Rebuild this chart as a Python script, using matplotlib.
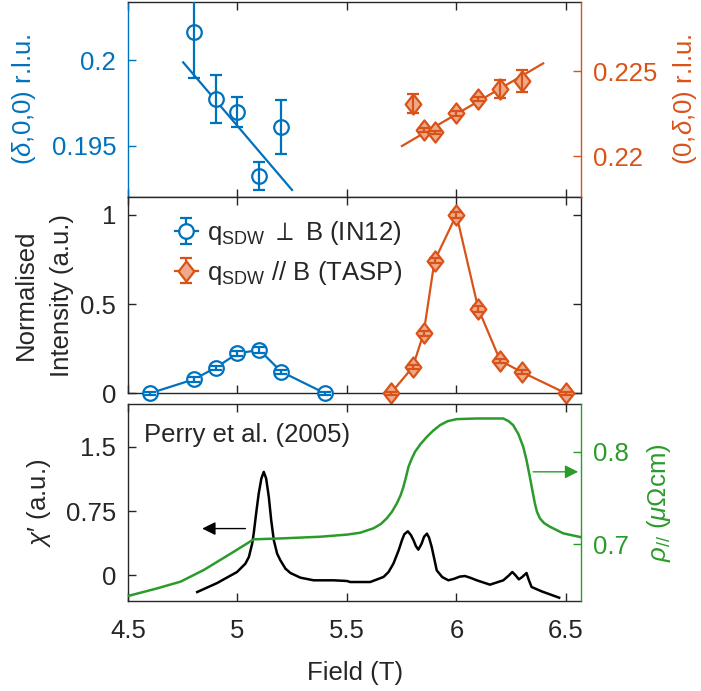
import matplotlib
matplotlib.use('Agg')
import matplotlib.pyplot as plt
from matplotlib.path import Path

plt.rcParams['font.family'] = ['Liberation Sans', 'DejaVu Sans']
plt.rcParams['mathtext.fontset'] = 'custom'
plt.rcParams['mathtext.rm'] = 'Liberation Sans'
plt.rcParams['mathtext.it'] = 'Liberation Sans:italic'
plt.rcParams['mathtext.bf'] = 'Liberation Sans:bold'
plt.rcParams['mathtext.sf'] = 'Liberation Sans'

# ---- incommensurability delta vs field ----
in12_field = [4.8, 4.9, 5.0, 5.1, 5.2]
in12_delta = [0.20165, 0.19772, 0.19700, 0.19325, 0.19611]
in12_delta_err = [0.0027, 0.0014, 0.00087, 0.0008, 0.0016]
in12_fit_field = [4.752, 5.249]
in12_fit_delta = [0.19988, 0.19243]

tasp_field = [5.8, 5.85, 5.9, 6.0, 6.1, 6.2, 6.3]
tasp_delta = [0.22308, 0.22153, 0.22139, 0.22251, 0.22335, 0.22396, 0.22441]
tasp_delta_err = [0.00056, 0.0001, 0.0001, 0.00015, 0.00013, 0.00053, 0.00066]
tasp_fit_field = [5.751, 6.396]
tasp_fit_delta = [0.22059, 0.22545]

# ---- normalised magnetic intensity ----
in12_int_field = [4.6, 4.8, 4.9, 5.0, 5.1, 5.2, 5.4]
in12_int = [0.0, 0.078, 0.143, 0.224, 0.243, 0.121, 0.0]
in12_int_err = [0.01, 0.012, 0.012, 0.015, 0.015, 0.012, 0.01]

tasp_int_field = [5.7, 5.8, 5.85, 5.9, 6.0, 6.1, 6.2, 6.3, 6.5]
tasp_int = [0.0, 0.146, 0.336, 0.743, 1.0, 0.473, 0.183, 0.118, 0.0]
tasp_int_err = [0.01, 0.012, 0.015, 0.015, 0.015, 0.015, 0.012, 0.012, 0.01]

# ---- Perry et al. (2005): ac susceptibility and resistivity ----
chi_field = [4.816, 4.907, 4.998, 5.036, 5.052, 5.067, 5.074, 5.087, 5.097,
             5.109, 5.120, 5.131, 5.143, 5.154, 5.166, 5.181, 5.196, 5.219,
             5.242, 5.287, 5.348, 5.439, 5.500, 5.515, 5.606, 5.667, 5.690,
             5.712, 5.736, 5.751, 5.762, 5.778, 5.792, 5.804, 5.815, 5.826,
             5.841, 5.852, 5.865, 5.875, 5.887, 5.910, 5.935, 5.963, 5.990,
             6.015, 6.039, 6.065, 6.093, 6.153, 6.214, 6.240, 6.255, 6.270,
             6.285, 6.300, 6.320, 6.330, 6.343, 6.389, 6.469]
chi_val = [-0.195, -0.090, 0.039, 0.136, 0.214, 0.370, 0.487, 0.760, 0.955,
           1.130, 1.208, 1.130, 0.916, 0.643, 0.409, 0.253, 0.175, 0.078,
           0.027, -0.027, -0.058, -0.058, -0.066, -0.078, -0.078, -0.019, 0.039,
           0.136, 0.292, 0.409, 0.480, 0.514, 0.470, 0.409, 0.340, 0.300,
           0.370, 0.450, 0.487, 0.440, 0.331, 0.058, -0.020, -0.058, -0.040,
           -0.015, -0.008, -0.030, -0.058, -0.109, -0.058, 0.000, 0.039, 0.000,
           -0.047, -0.020, 0.027, -0.050, -0.136, -0.187, -0.261]

rho_field = [4.500, 4.634, 4.740, 4.846, 4.983, 5.074, 5.211, 5.378, 5.500,
             5.560, 5.621, 5.655, 5.682, 5.705, 5.728, 5.745, 5.758, 5.770,
             5.781, 5.795, 5.811, 5.835, 5.865, 5.895, 5.925, 5.960, 6.001,
             6.093, 6.214, 6.238, 6.259, 6.283, 6.305, 6.320, 6.335, 6.347,
             6.358, 6.368, 6.381, 6.400, 6.427, 6.487, 6.571]
rho_val = [0.6442, 0.6525, 0.6597, 0.6723, 0.6920, 0.7054, 0.7065, 0.7082,
           0.7105, 0.7125, 0.7173, 0.7220, 0.7281, 0.7350, 0.7443, 0.7530,
           0.7622, 0.7730, 0.7838, 0.7920, 0.8000, 0.8080, 0.8161, 0.8230,
           0.8287, 0.8330, 0.8352, 0.8359, 0.8359, 0.8330, 0.8287, 0.8190,
           0.8053, 0.7910, 0.7730, 0.7580, 0.7443, 0.7350, 0.7281, 0.7230,
           0.7190, 0.7119, 0.7076]

field_ticks = [4.5, 5, 5.5, 6, 6.5]
field_ticklabels = ['4.5', '5', '5.5', '6', '6.5']

BLUE = '#0072BD'
ORANGE = '#D95319'
ORANGE_FACE = '#EFAA8A'
GREEN = '#2B9B2B'
DARK = '#262626'
FS = 18.5
LW = 1.6

diamond = Path([(0, 1), (0.78, 0), (0, -1), (-0.78, 0), (0, 1)],
               [Path.MOVETO, Path.LINETO, Path.LINETO, Path.LINETO, Path.CLOSEPOLY])

fig = plt.figure(figsize=(7.01, 6.91), dpi=100)
L, W = 0.1826, 0.6469
ax_t = fig.add_axes([L, 0.7149, W, 0.2829])
ax_m = fig.add_axes([L, 0.4308, W, 0.2841])
ax_b = fig.add_axes([L, 0.1302, W, 0.2851])

xlim = (4.5, 6.571)


def style_axes(ax):
    ax.set_xlim(*xlim)
    ax.set_xticks(field_ticks)
    ax.tick_params(direction='in', length=5.5, width=1.0, labelsize=FS,
                   colors=DARK, pad=8.5)
    ax.tick_params(axis='x', pad=13)
    for s in ax.spines.values():
        s.set_linewidth(1.0)
        s.set_color(DARK)
    ax.xaxis.set_ticks_position('both')


def blue_eb(ax, x, y, e, line=False):
    return ax.errorbar(x, y, yerr=e, fmt='o', ls='-' if line else 'none',
                       color=BLUE, mfc='white', mec=BLUE, ms=10.5, mew=LW,
                       lw=LW, elinewidth=LW, capsize=4, capthick=LW,
                       barsabove=True, zorder=3)


def orange_eb(ax, x, y, e, line=False):
    return ax.errorbar(x, y, yerr=e, fmt='', ls='-' if line else 'none',
                       marker=diamond, color=ORANGE, mfc=ORANGE_FACE,
                       mec=ORANGE, ms=14.5, mew=LW, lw=LW, elinewidth=LW,
                       capsize=4, capthick=LW, barsabove=True, zorder=3)


# ---- top panel: incommensurability ----
style_axes(ax_t)
ax_t.tick_params(axis='x', labelbottom=False)
ax_t.set_ylim(0.19202, 0.20343)
ax_t.set_yticks([0.195, 0.2])
ax_t.set_yticklabels(['0.195', '0.2'])
ax_t.tick_params(axis='y', colors=BLUE)
ax_t.spines['left'].set_color(BLUE)
ax_t.spines['right'].set_visible(False)
ax_t.plot(in12_fit_field, in12_fit_delta, color=BLUE, lw=LW, zorder=2)
blue_eb(ax_t, in12_field, in12_delta, in12_delta_err)
ax_t.set_ylabel(r'($\delta$,0,0) r.l.u.', color=BLUE, fontsize=FS)
ax_t.yaxis.set_label_coords(-0.198, 0.5)

ax_tr = ax_t.twinx()
ax_tr.set_xlim(*xlim)
ax_tr.set_ylim(0.21759, 0.22909)
ax_tr.set_yticks([0.22, 0.225])
ax_tr.set_yticklabels(['0.22', '0.225'])
ax_tr.tick_params(axis='y', direction='in', length=5.5, width=1.0,
                  labelsize=FS, colors=ORANGE, pad=8)
for k in ('left', 'top', 'bottom'):
    ax_tr.spines[k].set_visible(False)
ax_tr.spines['right'].set_color(ORANGE)
ax_tr.spines['right'].set_linewidth(1.0)
ax_tr.plot(tasp_fit_field, tasp_fit_delta, color=ORANGE, lw=LW, zorder=2)
orange_eb(ax_tr, tasp_field, tasp_delta, tasp_delta_err)
ax_tr.set_ylabel(r'(0,$\delta$,0) r.l.u.', color=ORANGE, fontsize=FS)
ax_tr.yaxis.set_label_coords(1.197, 0.5)

# ---- middle panel: normalised intensity ----
style_axes(ax_m)
ax_m.tick_params(axis='x', labelbottom=False)
ax_m.yaxis.set_ticks_position('both')
ax_m.set_ylim(0, 1.1)
ax_m.set_yticks([0, 0.5, 1])
ax_m.set_yticklabels(['0', '0.5', '1'])
eb1 = blue_eb(ax_m, in12_int_field, in12_int, in12_int_err, line=True)
eb2 = orange_eb(ax_m, tasp_int_field, tasp_int, tasp_int_err, line=True)
for eb in (eb1, eb2):
    for art in eb.get_children():
        art.set_clip_on(False)
ax_m.set_ylabel('Normalised\nIntensity (a.u.)', fontsize=FS, color=DARK,
                linespacing=1.6)
ax_m.yaxis.set_label_coords(-0.12, 0.5)
ax_m.legend([eb1, eb2],
            [r'q$_{\rm SDW}$ $\perp$ B (IN12)', r'q$_{\rm SDW}$ // B (TASP)'],
            loc='upper left', bbox_to_anchor=(0.08, 0.94), frameon=False,
            fontsize=FS, handlelength=0.9, handletextpad=0.35,
            labelspacing=0.45, borderaxespad=0.0, labelcolor=DARK)

# ---- bottom panel: susceptibility and resistivity ----
style_axes(ax_b)
ax_b.set_xticklabels(field_ticklabels)
ax_b.set_ylim(-0.3, 2.0)
ax_b.set_yticks([0, 0.75, 1.5])
ax_b.set_yticklabels(['0', '0.75', '1.5'])
ax_b.spines['right'].set_visible(False)
ax_b.plot(chi_field, chi_val, color='black', lw=LW + 0.2)
ax_b.annotate('', xy=(4.839, 0.546), xytext=(5.036, 0.546),
              arrowprops=dict(arrowstyle='-|>', color='black', lw=1.0,
                              mutation_scale=20, shrinkA=0, shrinkB=0))
ax_b.text(4.573, 1.64, 'Perry et al. (2005)', fontsize=FS, color=DARK,
          va='center', ha='left')
ax_b.set_ylabel(r"$\chi\prime$ (a.u.)", fontsize=FS, color=DARK)
ax_b.yaxis.set_label_coords(-0.165, 0.5)
ax_b.set_xlabel('Field (T)', fontsize=FS, color=DARK, labelpad=13)

ax_br = ax_b.twinx()
ax_br.set_xlim(*xlim)
ax_br.set_ylim(0.63877, 0.85151)
ax_br.set_yticks([0.7, 0.8])
ax_br.set_yticklabels(['0.7', '0.8'])
ax_br.tick_params(axis='y', direction='in', length=5.5, width=1.0,
                  labelsize=FS, colors=GREEN, pad=8)
for k in ('left', 'top', 'bottom'):
    ax_br.spines[k].set_visible(False)
ax_br.spines['right'].set_color(GREEN)
ax_br.spines['right'].set_linewidth(1.0)
ax_br.plot(rho_field, rho_val, color=GREEN, lw=LW + 0.2)
ax_br.annotate('', xy=(6.556, 0.7783), xytext=(6.35, 0.7783),
               arrowprops=dict(arrowstyle='-|>', color=GREEN, lw=1.0,
                               mutation_scale=20, shrinkA=0, shrinkB=0))
ax_br.set_ylabel(r'$\rho_{//}$ ($\mu\Omega$cm)', color=GREEN, fontsize=FS)
ax_br.yaxis.set_label_coords(1.1395, 0.5)

fig.savefig('out.png', dpi=100)
